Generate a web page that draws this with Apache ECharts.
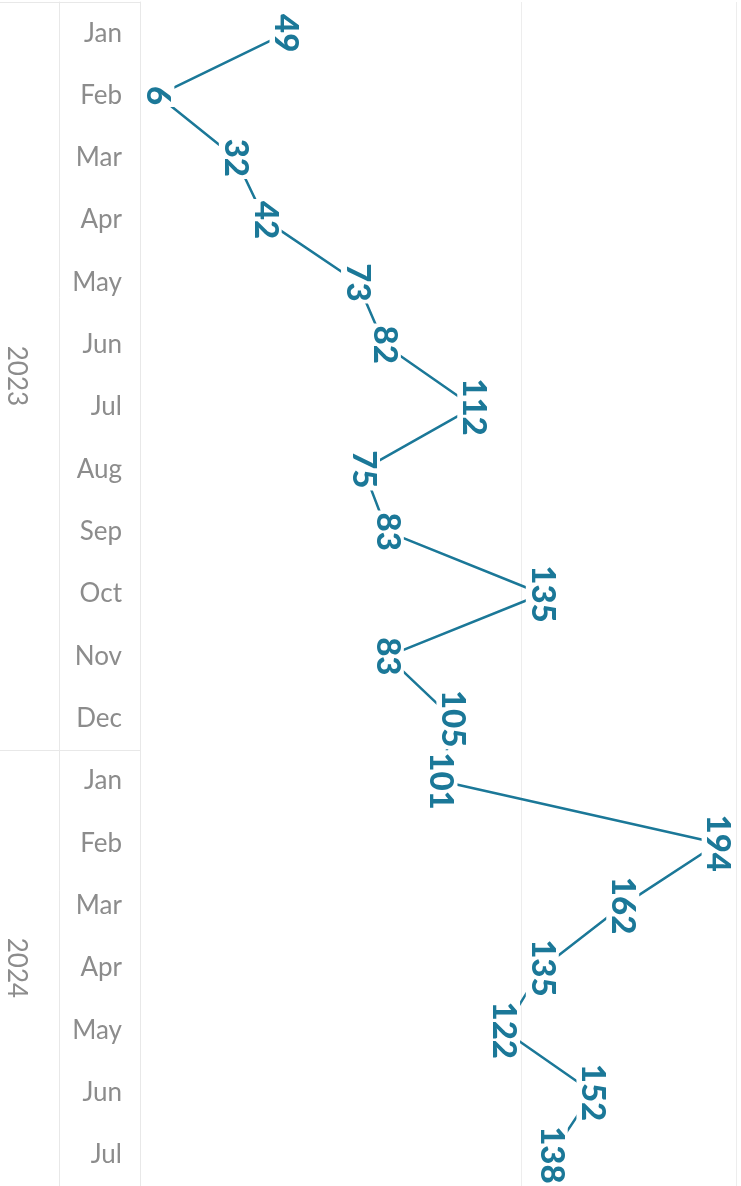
<!DOCTYPE html>
<html>
<head>
<meta charset="utf-8">
<script src="https://cdn.jsdelivr.net/npm/echarts@6/dist/echarts.min.js"></script>
<style>
  html, body { margin: 0; padding: 0; background: #fff; }
  #chart { width: 741px; height: 1186px; }
</style>
</head>
<body>
<div id="chart"></div>
<script>
// monthly values, Jan 2023 .. Jul 2024
const months = ['Jan', 'Feb', 'Mar', 'Apr', 'May', 'Jun', 'Jul', 'Aug', 'Sep', 'Oct', 'Nov', 'Dec',
  'Jan', 'Feb', 'Mar', 'Apr', 'May', 'Jun', 'Jul'];
const monthYears = ['2023', '2023', '2023', '2023', '2023', '2023', '2023', '2023', '2023', '2023', '2023', '2023',
  '2024', '2024', '2024', '2024', '2024', '2024', '2024'];
const values = [49, 6, 32, 42, 73, 82, 112, 75, 83, 135, 83, 105, 101, 194, 162, 135, 122, 152, 138];

const lineColor = '#1b7898';
const labelGrey = '#8c8c8c';
const ruleColor = '#e8e8e8';

// year header: centre of each year's rows and the boundaries between them
const years = [];
const yearCenters = [];
const yearBounds = [0];
monthYears.forEach((y, i) => {
  if (years[years.length - 1] !== y) {
    years.push(y);
    if (i > 0) yearBounds.push(i);
  }
});
yearBounds.push(months.length);
for (let k = 0; k < years.length; k++) {
  yearCenters.push((yearBounds[k] + yearBounds[k + 1]) / 2);
}

const chart = echarts.init(document.getElementById('chart'));
chart.setOption({
  animation: false,
  grid: { left: 140, right: 5, top: 2, bottom: 0 },
  xAxis: {
    type: 'value',
    min: 0,
    max: 200,
    interval: 128,
    axisLine: { show: false },
    axisTick: { show: false },
    axisLabel: { show: false },
    splitLine: { lineStyle: { color: '#ededed', width: 1 } }
  },
  yAxis: [
    {
      type: 'category',
      data: months,
      inverse: true,
      axisLine: { show: true, lineStyle: { color: ruleColor } },
      axisTick: { show: false },
      splitLine: { show: false },
      axisLabel: {
        color: labelGrey,
        fontFamily: 'Lato',
        fontSize: 26,
        margin: 18
      }
    },
    {
      type: 'value',
      position: 'left',
      inverse: true,
      min: 0,
      max: months.length,
      axisLine: { show: false },
      splitLine: { show: false },
      axisTick: {
        show: true,
        customValues: yearBounds,
        length: 140,
        lineStyle: { color: ruleColor }
      },
      axisLabel: {
        customValues: yearCenters,
        formatter: (v) => years[yearCenters.indexOf(v)] || '',
        rotate: -90,
        align: 'center',
        verticalAlign: 'middle',
        margin: 124,
        color: labelGrey,
        fontFamily: 'Lato',
        fontSize: 26
      }
    },
    {
      // divider between year and month headers
      type: 'value',
      position: 'left',
      offset: 81,
      min: 0,
      max: months.length,
      axisLine: { show: true, lineStyle: { color: ruleColor } },
      axisTick: { show: false },
      axisLabel: { show: false },
      splitLine: { show: false }
    }
  ],
  series: [
    {
      type: 'line',
      data: values,
      yAxisIndex: 0,
      symbol: 'circle',
      symbolSize: 1,
      showSymbol: true,
      lineStyle: { color: lineColor, width: 2.5 },
      itemStyle: { color: 'rgba(0,0,0,0)', borderWidth: 0 },
      label: {
        show: true,
        position: 'inside',
        rotate: -90,
        color: lineColor,
        fontFamily: 'Lato',
        fontWeight: 900,
        fontSize: 33,
        backgroundColor: '#fff',
        padding: [0, 2]
      }
    }
  ]
});
</script>
</body>
</html>
